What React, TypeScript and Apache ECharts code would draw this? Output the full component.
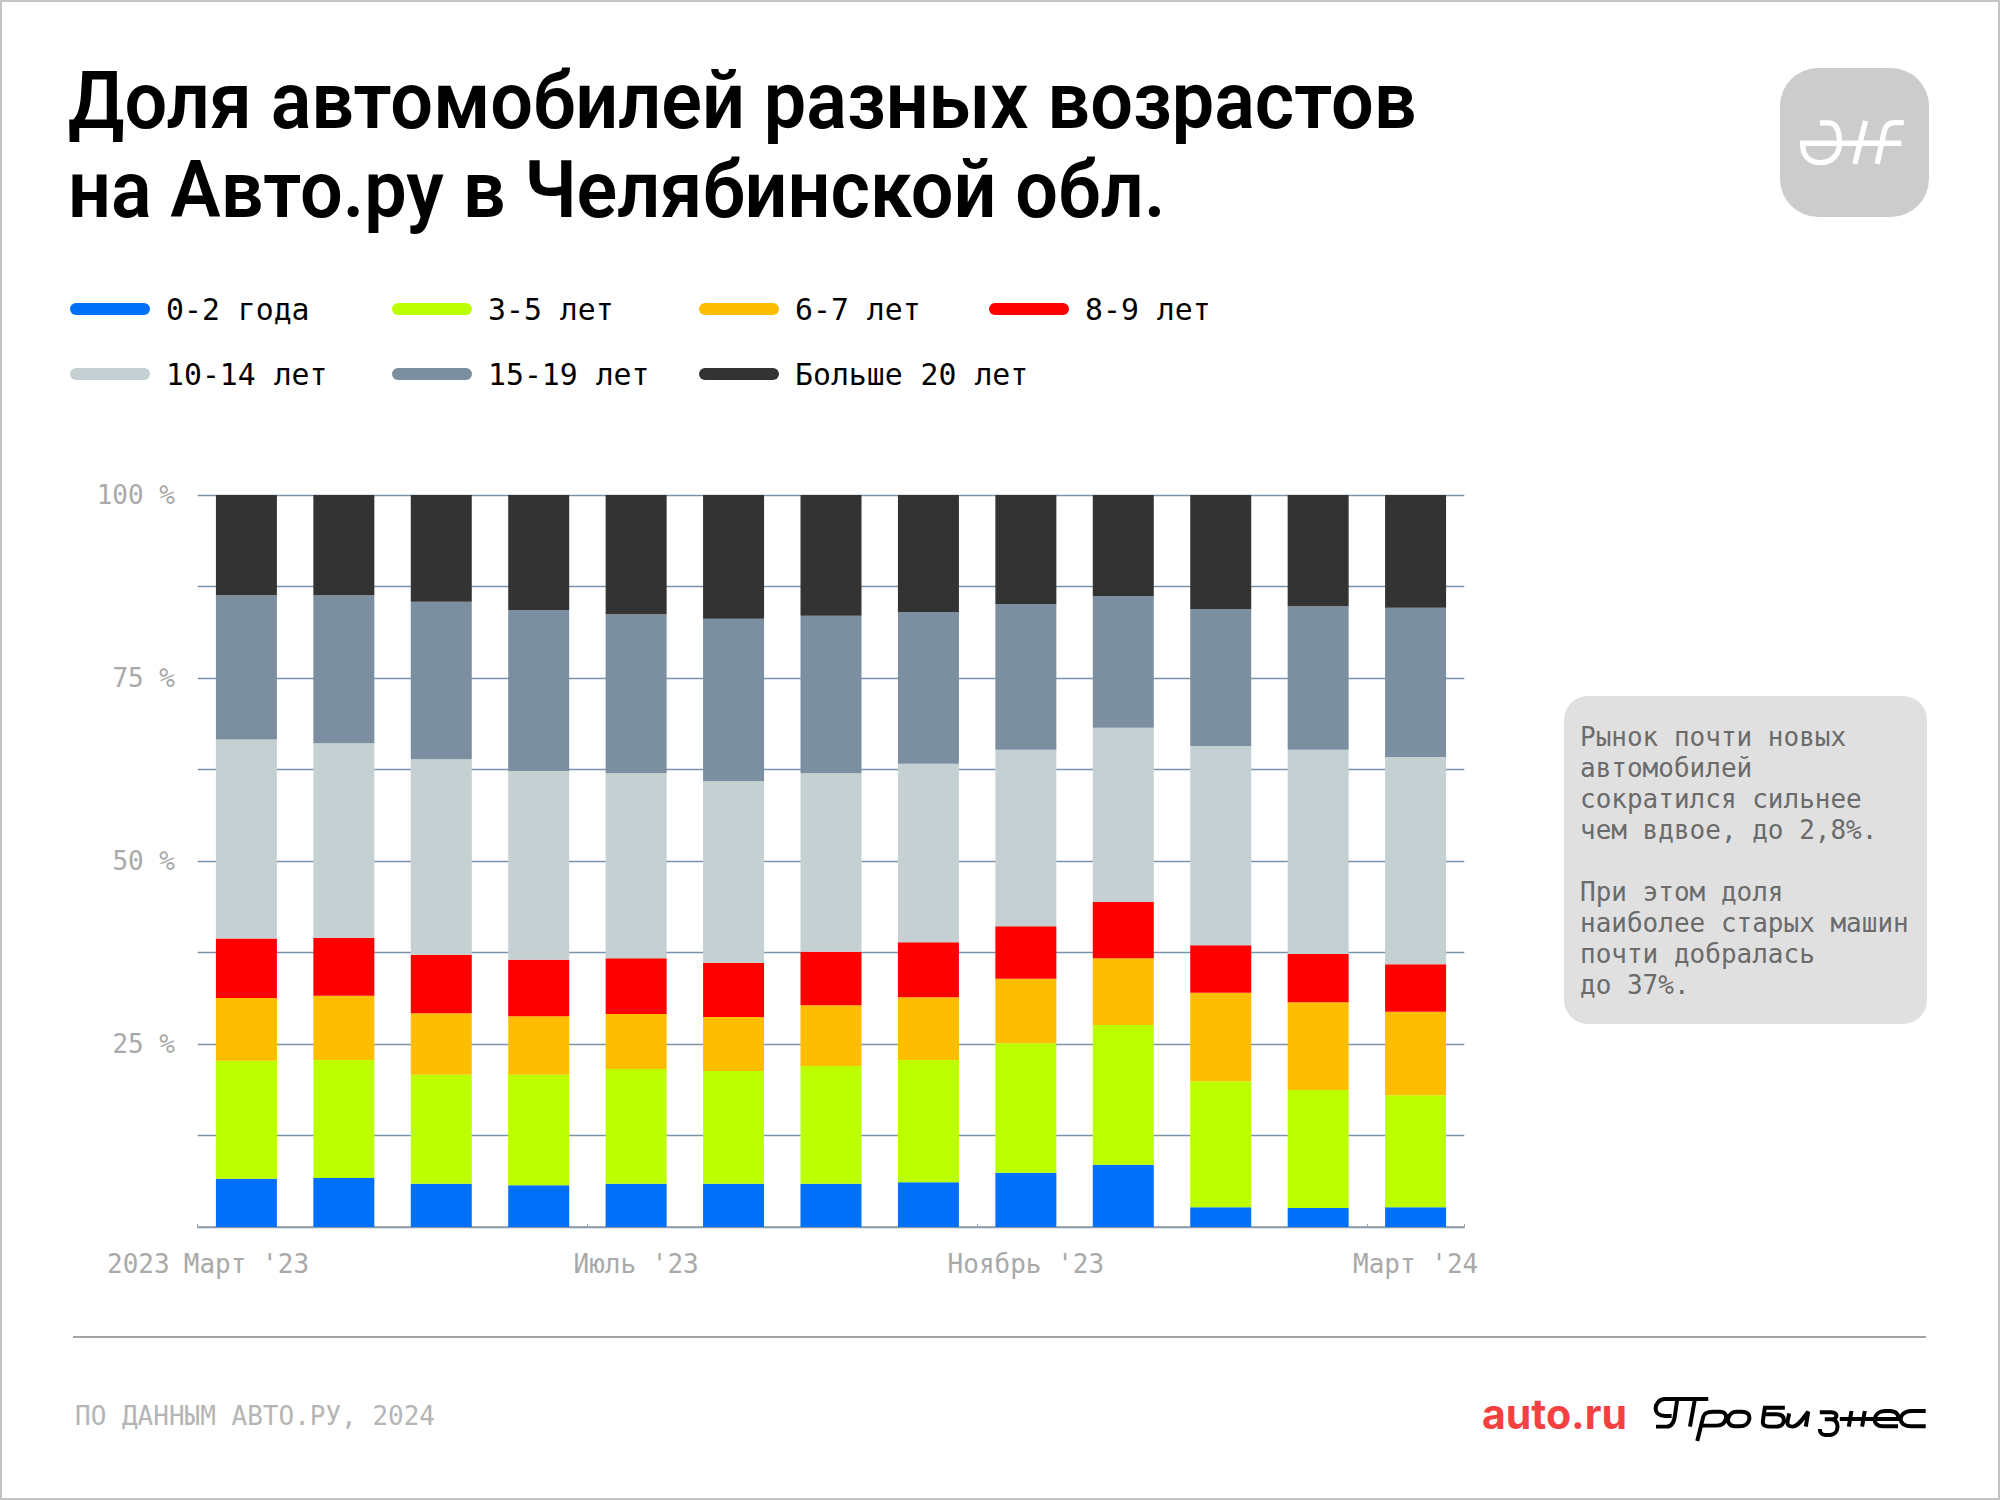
import { useRef, useEffect } from "react";
import * as echarts from "echarts";

const months = ["Март '23", "Апрель '23", "Май '23", "Июнь '23", "Июль '23", "Август '23", "Сентябрь '23", "Октябрь '23", "Ноябрь '23", "Декабрь '23", "Январь '24", "Февраль '24", "Март '24"];

// доли по возрастам, %
const age0to2 = [6.6, 6.7, 5.9, 5.7, 5.9, 5.9, 5.9, 6.1, 7.4, 8.5, 2.7, 2.6, 2.7];
const age3to5 = [16.1, 16.1, 14.9, 15.1, 15.7, 15.4, 16.1, 16.7, 17.7, 19.1, 17.2, 16.1, 15.3];
const age6to7 = [8.6, 8.8, 8.4, 8.0, 7.5, 7.4, 8.3, 8.6, 8.8, 9.1, 12.1, 12.0, 11.4];
const age8to9 = [8.1, 7.9, 8.0, 7.7, 7.6, 7.4, 7.3, 7.5, 7.2, 7.7, 6.5, 6.6, 6.5];
const age10to14 = [27.2, 26.6, 26.7, 25.8, 25.3, 24.8, 24.4, 24.4, 24.1, 23.8, 27.2, 27.9, 28.3];
const age15to19 = [19.7, 20.2, 21.5, 22.0, 21.7, 22.2, 21.5, 20.7, 19.9, 18.0, 18.7, 19.6, 20.4];
const age20plus = [13.8, 13.7, 14.6, 15.7, 16.3, 16.9, 16.5, 16.0, 14.9, 13.8, 15.6, 15.2, 15.4];

const seriesNames = ["0-2 года", "3-5 лет", "6-7 лет", "8-9 лет", "10-14 лет", "15-19 лет", "Больше 20 лет"];
const seriesColors = ["#0070f9", "#bbff00", "#ffbd00", "#ff0000", "#c5d0d2", "#7b8fa0", "#333333"];
const seriesData = [age0to2, age3to5, age6to7, age8to9, age10to14, age15to19, age20plus];
const legendLeft = [70, 392, 699, 989, 70, 392, 699];
const legendTop = [294, 294, 294, 294, 359, 359, 359];

const mono = "'DejaVu Sans Mono', monospace";
const pill = "path://M6 0H74A6 6 0 0 1 74 12H6A6 6 0 0 1 6 0Z";

const noteLines = [
  "Рынок почти новых",
  "автомобилей",
  "сократился сильнее",
  "чем вдвое, до 2,8%.",
  "",
  "При этом доля",
  "наиболее старых машин",
  "почти добралась",
  "до 37%.",
];

echarts.graphic.registerShape(
  "zhLogo",
  echarts.graphic.extendPath(
    "M360 249H385C410 249 419 275 419 310C419 345 395 368 362 368C325 368 308 345 308 310H605M497 243L465 372M612 248H585C565 248 555 262 552 280L532 372",
    {}
  )
);
echarts.graphic.registerShape(
  "proBiz",
  echarts.graphic.extendPath(
    "M112 42H75C55 42 47 60 47 70C47 85 60 93 75 93H95M48 125H80C95 125 103 110 105 90L112 42H205M165 42L150 125M172 168L190 95C192 85 205 80 220 80H240C255 80 260 90 258 100C256 115 245 122 230 122H180M290 80H305C325 80 330 92 328 103C326 115 315 124 300 124H285C270 124 262 112 265 100C268 88 278 80 290 80ZM435 68H375C372 85 370 100 369 110C368 122 378 125 390 125H410C425 125 432 115 432 105C432 95 425 88 410 88H372M448 85L443 110C441 120 448 125 458 125C475 125 490 100 505 80L498 125M540 82H575C595 82 595 103 575 103H555M575 103C600 103 600 150 570 150H555C545 150 540 140 540 132M635 78L627 125M675 78L667 125M600 102H775C778 88 768 78 750 78H735C718 78 707 88 705 102C703 115 713 124 730 124H775M858 78H815C795 78 783 90 783 102C783 115 795 124 815 124H858",
    {}
  )
);

const App = () => {
  const chartRef = useRef<HTMLDivElement>(null);

  useEffect(() => {
    const myChart = echarts.init(chartRef.current, null, { renderer: "svg" });

    myChart.setOption({
      animation: false,
      backgroundColor: "#fff",
      textStyle: { fontFamily: mono },
      grid: { left: 197.7, right: 535.7, top: 495, height: 732, containLabel: false },
      legend: seriesNames.map((name, i) => ({
        data: [name],
        left: legendLeft[i],
        top: legendTop[i],
        icon: pill,
        itemWidth: 80,
        itemHeight: 12,
        selectedMode: false,
        padding: 0,
        textStyle: {
          color: "#000",
          fontFamily: mono,
          fontSize: 29.8,
          lineHeight: 30,
          padding: [0, 0, 0, 11],
        },
      })),
      xAxis: {
        type: "category",
        data: months,
        axisLine: { lineStyle: { color: "#8f9dab", width: 1.5 } },
        axisTick: { show: true, inside: true, length: 3, lineStyle: { color: "#9aa5ae" } },
        axisLabel: {
          interval: 3,
          margin: 24,
          color: "#a9a9a9",
          fontFamily: mono,
          fontSize: 26,
          hideOverlap: false,
        },
      },
      yAxis: {
        type: "value",
        min: 0,
        max: 100,
        interval: 12.5,
        axisLine: { show: false },
        axisTick: { show: false },
        splitLine: { lineStyle: { color: "#7893aa", width: 1.4 } },
        axisLabel: {
          margin: 22.7,
          color: "#a9a9a9",
          fontFamily: mono,
          fontSize: 26,
          formatter: (v: number) => (v > 0 && v % 25 === 0 ? `${v} %` : ""),
        },
      },
      series: seriesNames.map((name, i) => ({
        name,
        type: "bar",
        stack: "share",
        barWidth: 61,
        data: seriesData[i],
        itemStyle: { color: seriesColors[i] },
      })),
      graphic: [
        {
          type: "rect",
          shape: { x: 1, y: 1, width: 1998, height: 1498 },
          style: { fill: "none", stroke: "#c4c4c4", lineWidth: 2 },
        },
        {
          type: "text",
          x: 68,
          y: 61,
          scaleX: 0.957,
          style: {
            text: "Доля автомобилей разных возрастов",
            fill: "#000",
            fontFamily: "Roboto",
            fontWeight: 600,
            fontSize: 79,
          },
        },
        {
          type: "text",
          x: 68,
          y: 150,
          scaleX: 0.957,
          style: {
            text: "на Авто.ру в Челябинской обл.",
            fill: "#000",
            fontFamily: "Roboto",
            fontWeight: 600,
            fontSize: 79,
          },
        },
        {
          type: "rect",
          shape: { x: 1780, y: 68, width: 149, height: 149, r: 38 },
          style: { fill: "#cccccc" },
        },
        {
          type: "zhLogo",
          x: 1700,
          y: 40,
          scaleX: 1 / 3,
          scaleY: 1 / 3,
          style: { fill: "none", stroke: "#fff", lineWidth: 16 },
        },
        {
          type: "text",
          x: 107,
          y: 1251,
          style: { text: "2023", fill: "#a9a9a9", fontFamily: mono, fontSize: 26 },
        },
        {
          type: "rect",
          shape: { x: 1564, y: 696, width: 363, height: 328, r: 24 },
          style: { fill: "#e0e0e0" },
        },
        {
          type: "text",
          x: 1580,
          y: 721,
          style: {
            text: noteLines.join("\n"),
            fill: "#6b6b6b",
            fontFamily: mono,
            fontSize: 26,
            lineHeight: 31,
          },
        },
        {
          type: "line",
          shape: { x1: 73, y1: 1337, x2: 1926, y2: 1337 },
          style: { stroke: "#a3a3a3", lineWidth: 2 },
        },
        {
          type: "text",
          x: 75,
          y: 1403,
          style: {
            text: "ПО ДАННЫМ АВТО.РУ, 2024",
            fill: "#b5b5b5",
            fontFamily: mono,
            fontSize: 26,
          },
        },
        {
          type: "text",
          x: 1482,
          y: 1393,
          style: {
            text: "auto.ru",
            fill: "#f4403f",
            fontFamily: "Inter",
            fontWeight: 700,
            fontSize: 41,
          },
        },
        {
          type: "proBiz",
          x: 1640,
          y: 1385,
          scaleX: 1 / 3,
          scaleY: 1 / 3,
          style: { fill: "none", stroke: "#000", lineWidth: 12 },
        },
      ],
    });

    return () => {
      myChart.dispose();
    };
  }, []);

  return (
    <div
      ref={chartRef}
      style={{ position: "absolute", left: 0, top: 0, width: "2000px", height: "1500px" }}
    ></div>
  );
};

export default App;
